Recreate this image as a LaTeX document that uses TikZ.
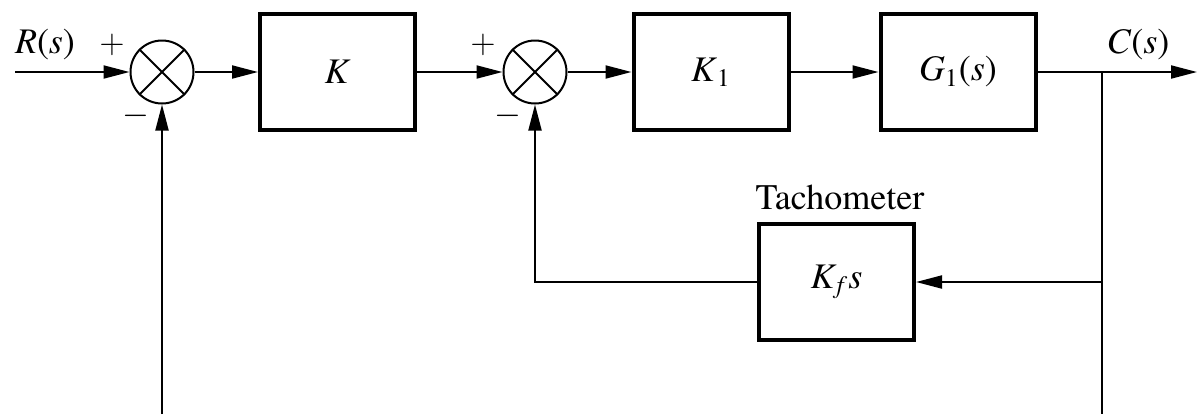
\documentclass[tikz,border=0pt]{standalone}
\usepackage{fontspec}
\setmainfont{texgyretermes}[Extension=.otf, UprightFont=*-regular, ItalicFont=*-italic, BoldFont=*-bold, BoldItalicFont=*-bolditalic]
\usetikzlibrary{arrows.meta}

\begin{document}
\begin{tikzpicture}[x=0.5pt, y=-0.5pt, >={Triangle[length=13pt,width=6.5pt]},
  line width=1pt, font=\fontsize{18}{21}\selectfont,
  block/.style={draw, line width=2pt, minimum width=77.5pt, minimum height=58pt, inner sep=0pt},
  sumnode/.style={draw, circle, line width=1pt, minimum size=31.5pt, inner sep=0pt},
  sign/.style={font=\fontsize{19}{22}\selectfont}]
  \useasboundingbox (0,0) rectangle (1197,414);

  % Summing points and blocks
  \node[sumnode] (sum1) at (162,72) {};
  \node[sumnode] (sum2) at (535,72) {};
  \draw (sum1.north west) -- (sum1.south east) (sum1.north east) -- (sum1.south west);
  \draw (sum2.north west) -- (sum2.south east) (sum2.north east) -- (sum2.south west);
  \node[block] (blkK) at (337.5,72) {\textit{K}};
  \node[block] (blkKone) at (711,72) {\textit{K}\textsubscript{1}};
  \node[block] (blkG) at (958,72) {\textit{G}\textsubscript{1}(\textit{s})};
  \node[block] (blkKf) at (836.5,282) {\textit{K}\textsubscript{\textit{f}}\textit{s}};
  \node (tach) at (840,197) {Tachometer};

  % Free ends
  \coordinate (in) at (15,72);
  \coordinate (out) at (1197,72);
  \coordinate (take) at (1102,72);
  \coordinate (tap) at (1102,282);
  \coordinate (bot1) at (162,414);
  \coordinate (bot2) at (1102,414);

  % Forward path
  \draw[->] (in) -- (sum1);
  \draw[->] (sum1) -- (blkK);
  \draw[->] (blkK) -- (sum2);
  \draw[->] (sum2) -- (blkKone);
  \draw[->] (blkKone) -- (blkG);
  \draw[->] (blkG) -- (out);

  % Feedback paths
  \draw (take) -- (bot2);
  \draw[->] (tap) -- (blkKf);
  \draw[->] (blkKf.west) -| (sum2.south);
  \draw[->] (bot1) -- (sum1.south);

  % Signs and signals
  \node (lblR) at (45,45) {\textit{R}(\textit{s})};
  \node (lblC) at (1138,45) {\textit{C}(\textit{s})};
  \node[sign] (pone) at (112,45) {$+$};
  \node[sign] (mone) at (136,116) {$-$};
  \node[sign] (ptwo) at (483,45) {$+$};
  \node[sign] (mtwo) at (508,116) {$-$};
\end{tikzpicture}
\end{document}
